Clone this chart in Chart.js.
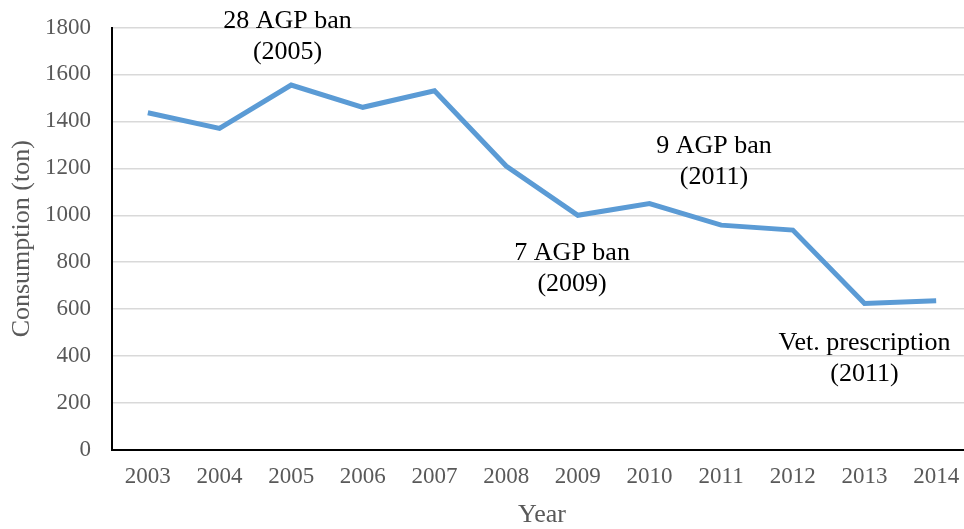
<!DOCTYPE html>
<html>
<head>
<meta charset="utf-8">
<script src="https://cdn.jsdelivr.net/npm/chart.js@4.4.1/dist/chart.umd.min.js"></script>
<style>
  html, body { margin: 0; padding: 0; background: #fff; overflow: hidden; }
  #wrap { width: 980px; height: 529px; }
</style>
</head>
<body>
<div id="wrap"><canvas id="chart" width="980" height="529"></canvas></div>
<script>
// Antimicrobial consumption per year, with regulatory milestones
const years = ['2003', '2004', '2005', '2006', '2007', '2008', '2009', '2010', '2011', '2012', '2013', '2014'];
const consumption = [1437, 1370, 1555, 1460, 1530, 1210, 1000, 1050, 958, 937, 624, 636];
const yTicks = [0, 200, 400, 600, 800, 1000, 1200, 1400, 1600, 1800];

// milestone notes: category index and value where the two-line text is centred
const noteLines = [['28 AGP ban', '(2005)'], ['9 AGP ban', '(2011)'], ['7 AGP ban', '(2009)'], ['Vet. prescription', '(2011)']];
const noteX = [1.95, 7.9, 5.92, 10.0];
const noteY = [1760, 1228, 772, 388];

const serif = '"Liberation Serif", "Times New Roman", serif';

const notesPlugin = {
    id: 'notes',
    afterDraw: function (chart) {
        const ctx = chart.ctx;
        const xs = chart.scales.x;
        const ys = chart.scales.y;
        ctx.save();
        ctx.font = '26px ' + serif;
        ctx.fillStyle = '#000';
        ctx.textAlign = 'center';
        ctx.textBaseline = 'middle';
        noteLines.forEach(function (lines, i) {
            const cx = xs.getPixelForValue(noteX[i]);
            const cy = ys.getPixelForValue(noteY[i]);
            ctx.fillText(lines[0], cx, cy - 15.5);
            ctx.fillText(lines[1], cx, cy + 15.5);
        });
        ctx.restore();
    }
};

new Chart(document.getElementById('chart').getContext('2d'), {
    type: 'line',
    data: {
        labels: years,
        datasets: [{
            label: 'Consumption',
            data: consumption,
            borderColor: '#5B9BD5',
            borderWidth: 5,
            pointRadius: 0,
            pointHoverRadius: 0,
            tension: 0,
            fill: false
        }]
    },
    options: {
        responsive: false,
        animation: false,
        layout: { padding: { top: 27.5, right: 8, bottom: 0, left: 0 } },
        plugins: {
            legend: { display: false },
            tooltip: { enabled: false }
        },
        scales: {
            x: {
                offset: true,
                grid: { display: false, drawTicks: false },
                border: { color: '#000', width: 2 },
                ticks: {
                    padding: 13,
                    color: '#595959',
                    font: { family: serif, size: 23 }
                },
                title: {
                    display: true,
                    text: 'Year',
                    color: '#595959',
                    font: { family: serif, size: 26, lineHeight: 1 },
                    padding: { top: 0, bottom: 1 }
                },
                afterFit: function (scale) {
                    scale.height = 79;
                    scale.paddingLeft = 0;
                    scale.paddingRight = 0;
                }
            },
            y: {
                min: 0,
                max: 1800,
                afterBuildTicks: function (scale) {
                    scale.ticks = yTicks.map(function (v) { return { value: v }; });
                },
                grid: { color: '#d9d9d9', lineWidth: 1.5, drawTicks: false },
                border: { color: '#000', width: 2 },
                ticks: {
                    padding: 21,
                    color: '#595959',
                    font: { family: serif, size: 23 },
                    callback: function (v) { return String(v); }
                },
                title: {
                    display: true,
                    text: 'Consumption (ton)',
                    color: '#595959',
                    font: { family: serif, size: 26, lineHeight: 1 },
                    padding: { top: 9, bottom: 0 }
                },
                afterFit: function (scale) {
                    scale.width = 112;
                    scale.paddingTop = 0;
                    scale.paddingBottom = 0;
                }
            }
        }
    },
    plugins: [notesPlugin]
});
</script>
</body>
</html>
